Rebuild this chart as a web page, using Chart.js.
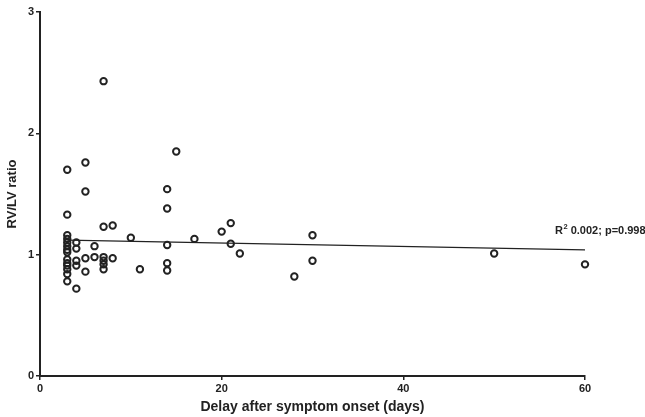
<!DOCTYPE html>
<html>
<head>
<meta charset="utf-8">
<script src="https://cdn.jsdelivr.net/npm/chart.js@4/dist/chart.umd.min.js"></script>
<style>
  html, body { margin: 0; padding: 0; background: #fff; }
  #wrap { width: 645px; height: 417px; }
</style>
</head>
<body>
<div id="wrap"><canvas id="scatter"></canvas></div>
<script>
// Delay after symptom onset (days) and RV/LV ratio, one entry per patient
const delayDays = [
  3, 3, 3, 3, 3, 3, 3, 3, 3, 3, 3, 3, 3, 3,
  4, 4, 4, 4, 4,
  5, 5, 5, 5,
  6, 6,
  7, 7, 7, 7, 7, 7,
  8, 8,
  10, 11,
  14, 14, 14, 14, 14,
  15, 17, 20, 21, 21, 22, 28, 30, 30, 50, 60
];
const rvlvRatio = [
  1.70, 1.33, 1.16, 1.13, 1.10, 1.07, 1.04, 1.02, 0.96, 0.93, 0.91, 0.88, 0.84, 0.78,
  1.10, 1.05, 0.95, 0.91, 0.72,
  1.76, 1.52, 0.97, 0.86,
  1.07, 0.98,
  2.43, 1.23, 0.98, 0.95, 0.92, 0.88,
  1.24, 0.97,
  1.14, 0.88,
  1.54, 1.38, 1.08, 0.93, 0.87,
  1.85, 1.13, 1.19, 1.26, 1.09, 1.01, 0.82, 1.16, 0.95, 1.01, 0.92
];

// Linear fit end points
const fitX = [3, 60];
const fitY = [1.12, 1.04];
const fitLabel = '0.002; p=0.998';

const xTicks = [0, 20, 40, 60];
const yTicks = [0, 1, 2, 3];

const ink = '#222';
const fontFamily = '"Liberation Sans", Arial, Helvetica, sans-serif';

// Regression note with superscript 2
const fitNote = {
  id: 'fitNote',
  afterDatasetsDraw(chart) {
    const ctx = chart.ctx;
    const xs = chart.scales.x, ys = chart.scales.y;
    const x0 = xs.getPixelForValue(fitX[1]) - 30;
    const y0 = ys.getPixelForValue(fitY[1]) - 16;
    ctx.save();
    ctx.fillStyle = ink;
    ctx.textBaseline = 'alphabetic';
    ctx.textAlign = 'left';
    ctx.font = 'bold 11px ' + fontFamily;
    ctx.fillText('R', x0, y0);
    const rw = ctx.measureText('R').width;
    ctx.font = 'bold 7.5px ' + fontFamily;
    ctx.fillText('2', x0 + rw + 0.5, y0 - 4.5);
    const sw = ctx.measureText('2').width;
    ctx.font = 'bold 11px ' + fontFamily;
    ctx.fillText(' ' + fitLabel, x0 + rw + sw + 0.5, y0);
    ctx.restore();
  }
};

new Chart(document.getElementById('scatter'), {
  type: 'scatter',
  data: {
    datasets: [{
      label: 'Patients',
      data: delayDays.map((d, i) => ({ x: d, y: rvlvRatio[i] })),
      pointStyle: 'circle',
      pointRadius: 3.2,
      borderWidth: 2,
      borderColor: ink,
      backgroundColor: 'rgba(255,255,255,0)',
      clip: false,
      order: 1
    }, {
      type: 'line',
      label: 'Fit',
      data: fitX.map((d, i) => ({ x: d, y: fitY[i] })),
      borderColor: ink,
      borderWidth: 1.3,
      pointRadius: 0,
      fill: false,
      clip: false,
      order: 2
    }]
  },
  options: {
    responsive: true,
    maintainAspectRatio: false,
    animation: false,
    layout: { padding: { top: 12, right: 60, left: 0, bottom: 0 } },
    plugins: {
      legend: { display: false },
      tooltip: { enabled: false }
    },
    scales: {
      x: {
        type: 'linear',
        min: xTicks[0],
        max: xTicks[xTicks.length - 1],
        afterBuildTicks: scale => { scale.ticks = xTicks.map(v => ({ value: v })); },
        afterFit: scale => { scale.height = 41; },
        border: { display: true, color: ink, width: 2 },
        grid: { display: true, drawOnChartArea: false, drawTicks: true, tickLength: 4, color: ink, lineWidth: 1.5 },
        ticks: { color: ink, padding: 2, font: { family: fontFamily, size: 11, weight: 'bold' } },
        title: {
          display: true,
          text: 'Delay after symptom onset (days)',
          color: ink,
          padding: { top: 0, bottom: 1 },
          font: { family: fontFamily, size: 14, weight: 'bold' }
        }
      },
      y: {
        type: 'linear',
        min: yTicks[0],
        max: yTicks[yTicks.length - 1],
        afterBuildTicks: scale => { scale.ticks = yTicks.map(v => ({ value: v })); },
        afterFit: scale => { scale.width = 40; },
        border: { display: true, color: ink, width: 2 },
        grid: { display: true, drawOnChartArea: false, drawTicks: true, tickLength: 4, color: ink, lineWidth: 1.5 },
        ticks: { color: ink, padding: 2, font: { family: fontFamily, size: 11, weight: 'bold' } },
        title: {
          display: true,
          text: 'RV/LV ratio',
          color: ink,
          padding: { top: 5, bottom: 0 },
          font: { family: fontFamily, size: 13, weight: 'bold' }
        }
      }
    }
  },
  plugins: [fitNote]
});
</script>
</body>
</html>
